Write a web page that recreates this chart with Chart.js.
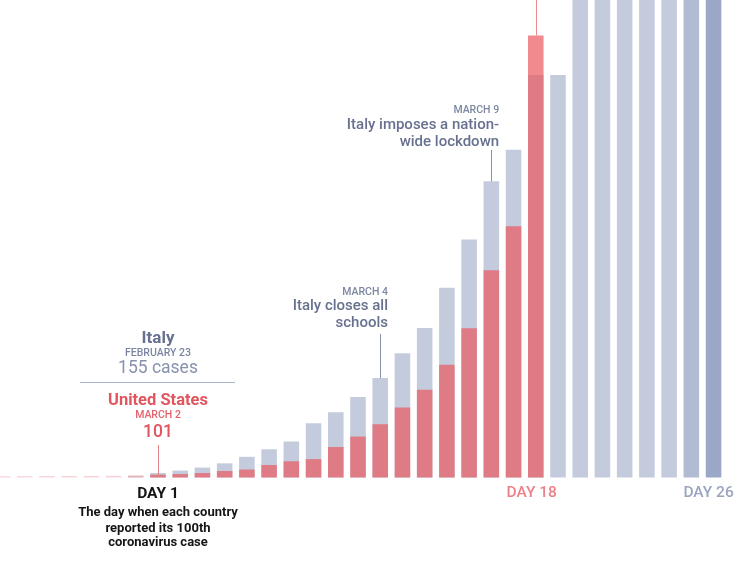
<!DOCTYPE html>
<html>
<head>
<meta charset="utf-8">
<script src="https://cdn.jsdelivr.net/npm/chart.js@4"></script>
<style>
  html, body { margin: 0; padding: 0; background: #fff; }
  #wrap { width: 750px; height: 563px; position: relative; }
</style>
</head>
<body>
<div id="wrap"><canvas id="casesChart"></canvas></div>
<script>
// day 1 = the day each country passed 100 cases
const days = [-6, -5, -4, -3, -2, -1, 0, 1, 2, 3, 4, 5, 6, 7, 8, 9, 10, 11, 12, 13, 14, 15, 16, 17, 18, 19, 20, 21, 22, 23, 24, 25, 26];
const italyCases = [null, null, null, null, null, null, null,
  155, 229, 322, 453, 655, 888, 1128, 1694, 2036, 2502, 3089, 3858, 4636, 5883, 7375, 9172, 10149, 12462, 12462,
  17660, 21157, 24747, 27980, 31506, 35713, 41035];
const usCases = [53, 57, 59, 60, 62, 68, 74,
  101, 122, 153, 217, 262, 402, 518, 583, 959, 1281, 1663, 2179, 2727, 3499, 4632, 6421, 7786, 13680,
  null, null, null, null, null, null, null, null];
const gridValues = [5000, 10000];

const FONT = 'Roboto, "Liberation Sans", sans-serif';

const italyColors = days.map(d => d === 26 ? '#9aa7c6' : d === 25 ? '#b1bbd3' : '#c3cbdd');
const usColors = days.map(d => d < 0 ? '#f6d3d7' : d === 0 ? '#ddb0b9' : 'rgba(234, 89, 95, 0.7)');

function text(ctx, str, x, y, font, color, align) {
  ctx.font = font;
  ctx.fillStyle = color;
  ctx.textAlign = align || 'center';
  ctx.textBaseline = 'alphabetic';
  ctx.fillText(str, x, y);
}

function vline(ctx, x, y1, y2, color) {
  ctx.beginPath();
  ctx.strokeStyle = color;
  ctx.lineWidth = 1;
  ctx.moveTo(Math.round(x) + 0.5, y1);
  ctx.lineTo(Math.round(x) + 0.5, y2);
  ctx.stroke();
}

const annotations = {
  id: 'annotations',
  afterDatasetsDraw(chart) {
    const ctx = chart.ctx;
    const x = chart.scales.x;
    const y = chart.scales.y;
    const half = (x.getPixelForValue(1) - x.getPixelForValue(0)) * 0.35;
    ctx.save();

    // day 1 block
    const d1 = x.getPixelForValue(1);
    vline(ctx, d1, 445, y.getPixelForValue(usCases[days.indexOf(1)]), '#e5838a');
    text(ctx, 'Italy', d1, 343, 'bold 17px ' + FONT, '#67718f');
    text(ctx, 'FEBRUARY 23', d1, 356, '500 10.5px ' + FONT, '#7b85a2');
    text(ctx, '155 cases', d1, 373, '17.5px ' + FONT, '#8891ad');
    ctx.beginPath();
    ctx.strokeStyle = '#aab3cb';
    ctx.lineWidth = 1;
    ctx.moveTo(d1 - 78, 382.5);
    ctx.lineTo(d1 + 77, 382.5);
    ctx.stroke();
    text(ctx, 'United States', d1, 405, 'bold 16.5px ' + FONT, '#e2555f');
    text(ctx, 'MARCH 2', d1, 418, '500 10.5px ' + FONT, '#e4636c');
    text(ctx, '101', d1, 437, '500 17.5px ' + FONT, '#e2555f');
    text(ctx, 'DAY 1', d1, 498, 'bold 15.5px ' + FONT, '#151515');
    text(ctx, 'The day when each country', d1, 515.5, 'bold 13px ' + FONT, '#151515');
    text(ctx, 'reported its 100th', d1, 531.5, 'bold 13px ' + FONT, '#151515');
    text(ctx, 'coronavirus case', d1, 545.5, 'bold 13px ' + FONT, '#151515');

    // March 4
    const d11 = x.getPixelForValue(11);
    vline(ctx, d11, 334, y.getPixelForValue(italyCases[days.indexOf(11)]), '#8791ab');
    text(ctx, 'MARCH 4', d11 + half, 295, '500 10.5px ' + FONT, '#7d87a2', 'right');
    text(ctx, 'Italy closes all', d11 + half, 310, '500 15px ' + FONT, '#67718f', 'right');
    text(ctx, 'schools', d11 + half, 327, '500 15px ' + FONT, '#67718f', 'right');

    // March 9
    const d16 = x.getPixelForValue(16);
    vline(ctx, d16, 150, y.getPixelForValue(italyCases[days.indexOf(16)]), '#8791ab');
    text(ctx, 'MARCH 9', d16 + half, 113, '500 10.5px ' + FONT, '#7d87a2', 'right');
    text(ctx, 'Italy imposes a nation-', d16 + half, 129, '500 15px ' + FONT, '#67718f', 'right');
    text(ctx, 'wide lockdown', d16 + half, 146, '500 15px ' + FONT, '#67718f', 'right');

    // day 18 and day 26
    const d18 = x.getPixelForValue(18);
    vline(ctx, d18, 0, y.getPixelForValue(usCases[days.indexOf(18)]), '#ec8a90');
    text(ctx, 'DAY 18', d18 - 4, 497, '500 15.5px ' + FONT, '#ee8088');
    const d26 = x.getPixelForValue(26);
    text(ctx, 'DAY 26', d26 - 5, 497, '500 15.5px ' + FONT, '#9aa4c0');

    ctx.restore();
  }
};

new Chart(document.getElementById('casesChart').getContext('2d'), {
  type: 'bar',
  data: {
    datasets: [{
      label: 'United States',
      data: days.map((d, i) => ({ x: d, y: usCases[i] })),
      backgroundColor: usColors,
      grouped: false,
      order: 0,
    }, {
      label: 'Italy',
      data: days.map((d, i) => ({ x: d, y: italyCases[i] })),
      backgroundColor: italyColors,
      grouped: false,
      order: 1,
    }],
  },
  options: {
    responsive: true,
    maintainAspectRatio: false,
    animation: false,
    layout: { padding: { left: 0, right: 0, top: 0, bottom: 85 } },
    barPercentage: 0.7,
    categoryPercentage: 1,
    plugins: { legend: { display: false }, tooltip: { enabled: false } },
    scales: {
      x: {
        type: 'linear',
        min: -6.11,
        max: 27.64,
        offset: false,
        display: false,
      },
      y: {
        min: 0,
        max: 14780,
        display: true,
        border: { display: false },
        ticks: { display: false, stepSize: 5000 },
        grid: {
          drawTicks: false,
          color: c => gridValues.includes(c.tick.value) ? '#d3d5da' : 'transparent',
        },
      },
    },
  },
  plugins: [annotations],
});
</script>
</body>
</html>
